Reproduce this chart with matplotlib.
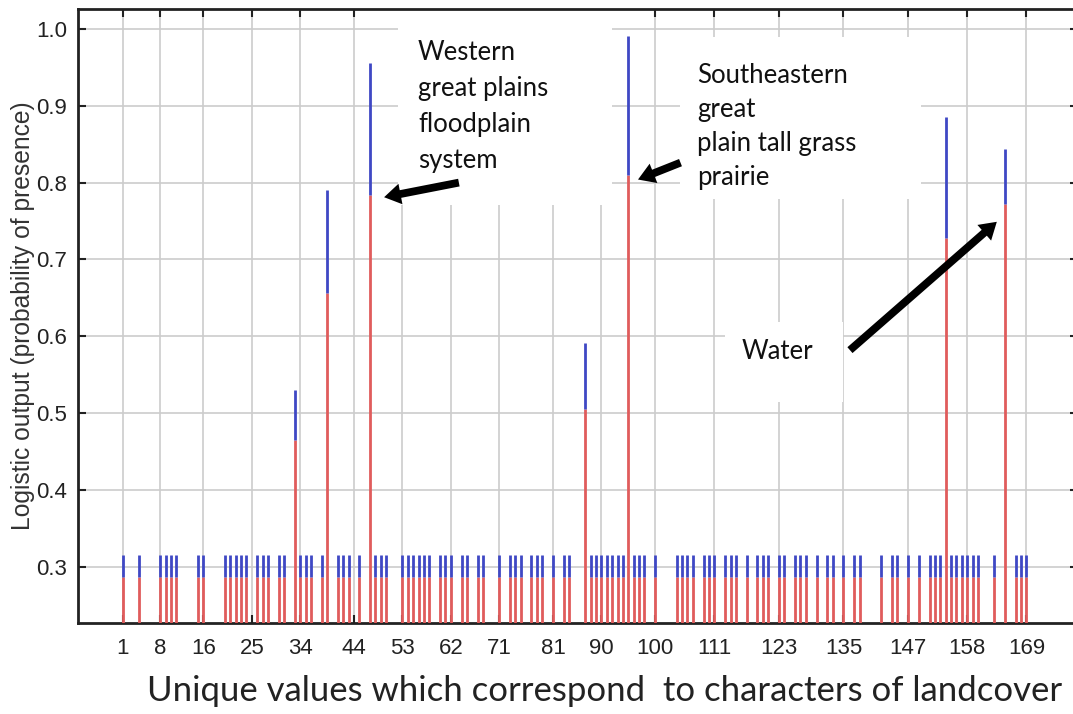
import matplotlib
matplotlib.use("Agg")
import matplotlib.pyplot as plt
from matplotlib.patches import Rectangle

# unique landcover codes present in the model output
codes = [1, 4, 8, 9, 10, 11, 15, 16, 20, 21, 22, 23, 24, 26, 27, 28, 30, 31, 33,
         34, 35, 36, 38, 39, 41, 42, 43, 45, 47, 48, 49, 50, 53, 54, 55, 56, 57,
         58, 60, 61, 62, 64, 65, 67, 68, 71, 73, 74, 75, 77, 78, 79, 81, 83, 84,
         87, 88, 89, 90, 91, 92, 93, 94, 95, 96, 97, 98, 100, 104, 105, 106, 107,
         109, 110, 111, 113, 114, 115, 117, 119, 120, 121, 123, 124, 126, 127,
         128, 130, 132, 133, 135, 137, 138, 142, 144, 145, 147, 149, 151, 152,
         153, 154, 155, 156, 157, 158, 159, 160, 163, 165, 167, 168, 169]

# most codes sit at the baseline response
base_lower = 0.287
base_upper = 0.316

# codes with a strong response (lower / upper logistic output)
peak_codes = [33, 39, 47, 87, 95, 154, 165]
peak_lower = [0.465, 0.656, 0.784, 0.506, 0.810, 0.728, 0.772]
peak_upper = [0.530, 0.790, 0.956, 0.591, 0.991, 0.885, 0.844]

tick_vals = [1, 8, 16, 25, 34, 44, 53, 62, 71, 81, 90, 100, 111, 123, 135, 147, 158, 169]
y_ticks = [0.3, 0.4, 0.5, 0.6, 0.7, 0.8, 0.9, 1.0]

lower = []
upper = []
for c in codes:
    if c in peak_codes:
        i = peak_codes.index(c)
        lower.append(peak_lower[i])
        upper.append(peak_upper[i])
    else:
        lower.append(base_lower)
        upper.append(base_upper)

ymin, ymax = 0.227, 1.026

fig = plt.figure(figsize=(10.73, 7.14), dpi=100)
ax = fig.add_axes([0.0727, 0.1275, 0.932, 0.86])

ax.vlines(codes, ymin, lower, color="#e05c5c", lw=2.0, zorder=3)
ax.vlines(codes, lower, upper, color="#3f48c4", lw=2.0, zorder=3)

ax.set_xlim(-7.3, 178.6)
ax.set_ylim(ymin, ymax)
ax.set_xticks(tick_vals)
ax.set_xticklabels([str(t) for t in tick_vals])
ax.set_yticks(y_ticks)
ax.set_yticklabels(["%.1f" % t for t in y_ticks])
ax.grid(True, color="#cccccc", lw=1.2, zorder=0)
ax.set_axisbelow(True)
ax.tick_params(direction="in", length=6, width=1.5, top=True, right=True,
               labelsize=16, colors="#222222", pad=8)
ax.tick_params(axis="x", pad=11)
for lab in ax.get_xticklabels() + ax.get_yticklabels():
    lab.set_family("Liberation Sans")
for sp in ax.spines.values():
    sp.set_linewidth(2)
    sp.set_color("#222222")

ax.set_ylabel("Logistic output (probability of presence)", fontsize=17.7,
              family="Liberation Sans", color="#333333", labelpad=1)
fig.text(0.137, 0.018, "Unique values which correspond  to characters of landcover",
         fontsize=25, family="Lato", color="#222222")

# white label panels sitting over the grid
for (x0, y0, w, h) in [(0.320, 0.68, 0.214, 0.32), (0.602, 0.69, 0.241, 0.265),
                       (0.647, 0.36, 0.118, 0.13)]:
    ax.add_patch(Rectangle((x0, y0), w, h, transform=ax.transAxes,
                           facecolor="white", edgecolor="none", zorder=1))

txt = dict(fontsize=18.5, family="Lato", color="#111111",
           va="top", ha="left", zorder=5)
ax.text(0.340, 0.950, "Western\ngreat plains\nfloodplain\nsystem", transform=ax.transAxes,
        linespacing=1.55, **txt)
ax.text(0.619, 0.912, "Southeastern\ngreat\nplain tall grass\nprairie", transform=ax.transAxes,
        linespacing=1.45, **txt)
ax.text(0.664, 0.463, "Water", transform=ax.transAxes, **txt)

arrow = dict(arrowstyle="simple,head_width=0.75,head_length=0.6,tail_width=0.28",
             mutation_scale=20, color="black", lw=0, shrinkA=0, shrinkB=0)
ax.annotate("", xy=(49.6, 0.781), xytext=(63.5, 0.800), arrowprops=arrow, zorder=6)
ax.annotate("", xy=(96.8, 0.804), xytext=(104.7, 0.826), arrowprops=arrow, zorder=6)
ax.annotate("", xy=(163.5, 0.749), xytext=(136.2, 0.582), arrowprops=arrow, zorder=6)

fig.savefig("out.png", dpi=100)
